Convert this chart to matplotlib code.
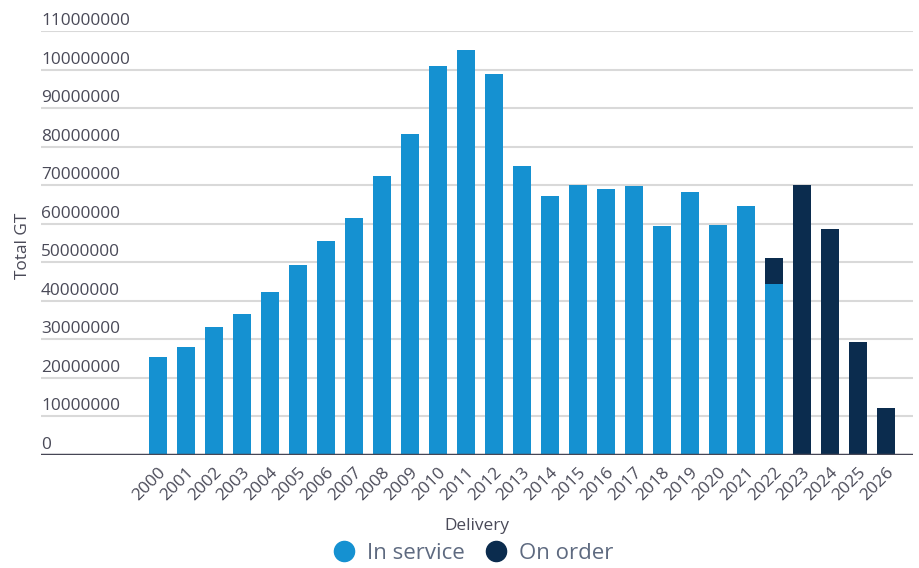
import numpy as np
import matplotlib
matplotlib.use("Agg")
import matplotlib.pyplot as plt
from matplotlib.lines import Line2D
from matplotlib import transforms

plt.rcParams['font.family'] = ['Open Sans', 'DejaVu Sans']

years = [str(y) for y in range(2000, 2027)]
in_service = [25.3, 28.1, 33.1, 36.5, 42.2, 49.2, 55.5, 61.5, 72.4, 83.3,
              101.0, 105.2, 99.0, 75.0, 67.2, 70.1, 69.0, 69.9, 59.4, 68.2,
              59.6, 64.6, 44.3, 0, 0, 0, 0]
on_order = [0] * 22 + [6.7, 70.1, 58.6, 29.2, 12.2]
yticks = list(range(0, 111, 10))

in_service = np.array(in_service) * 1e6
on_order = np.array(on_order) * 1e6

c_service = '#1591d1'
c_order = '#0b2c4e'
c_text = '#4a4a58'

fig = plt.figure(figsize=(9.19, 5.68), dpi=100)
ax = fig.add_axes([0.0446, 0.1995, 0.9489, 0.7452])

x = np.arange(len(years))
ax.bar(x, in_service, width=0.643, color=c_service, zorder=3)
ax.bar(x, on_order, width=0.643, bottom=in_service, color=c_order, zorder=3)

ax.set_xlim(-4.18, 26.96)
ax.set_ylim(0, 110e6)

# gridlines with labels sitting on top, left aligned
for v in yticks[1:]:
    ax.axhline(v * 1e6, color='#d9d9d9', lw=1.5, zorder=1)
ax.axhline(0, color='#464655', lw=2.5, zorder=4)
off = transforms.ScaledTranslation(0, 1.5 / 72, fig.dpi_scale_trans)
trans = transforms.blended_transform_factory(ax.transAxes, ax.transData) + off
for v in yticks:
    ax.text(0, v * 1e6, str(v * 1000000), transform=trans,
            ha='left', va='bottom', fontsize=12.4, color=c_text)

for s in ax.spines.values():
    s.set_visible(False)
ax.set_yticks([])
ax.set_xticks(x)
ax.set_xticklabels(years, rotation=45, ha='right', rotation_mode='anchor',
                   fontsize=12.4, color=c_text)
ax.tick_params(axis='x', length=0, pad=7)

ax.set_xlabel('Delivery', fontsize=12.4, color=c_text, labelpad=10)
fig.text(0.025, 0.568, 'Total GT', rotation=90, ha='center', va='center',
         fontsize=12.4, color=c_text)

handles = [Line2D([], [], marker='o', ls='', color=c_service, markersize=14.5),
           Line2D([], [], marker='o', ls='', color=c_order, markersize=14.5)]
fig.legend(handles, ['In service', 'On order'], loc='center', bbox_to_anchor=(0.515, 0.026),
           ncol=2, frameon=False, fontsize=16, labelcolor='#5e6a80',
           handletextpad=0.55, columnspacing=0.9, handlelength=1.0)

fig.savefig('out.png', dpi=100)
